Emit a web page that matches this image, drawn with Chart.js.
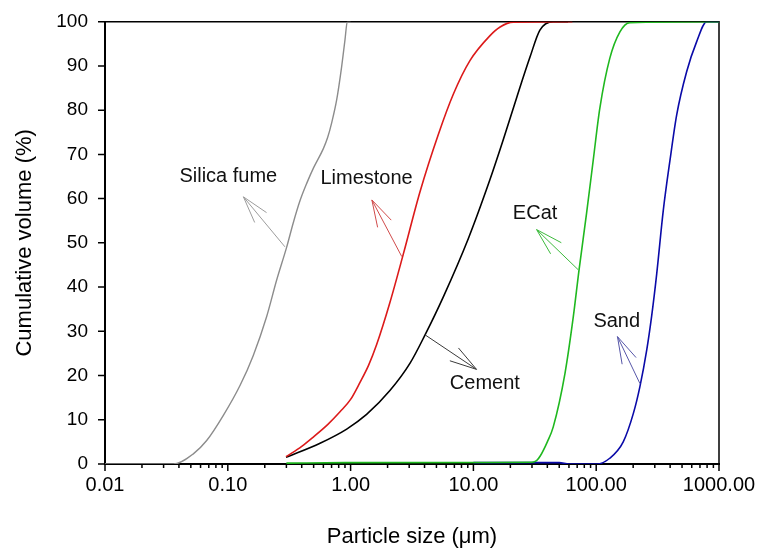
<!DOCTYPE html>
<html lang="en">
<head>
<meta charset="UTF-8">
<title>Particle size distribution</title>
<script src="https://cdn.jsdelivr.net/npm/chart.js"></script>
<style>
    html, body {
        margin: 0;
        padding: 0;
        background: #fff;
    }

    .chart-box {
        position: relative;
        width: 762px;
        height: 551px;
    }
</style>
</head>
<body>

<div class="chart-box">
    <canvas id="grafPSD"></canvas>
</div>

<script>
    // cumulative volume (%) vs particle size (um)
    const silicaX = [0.01, 0.036, 0.0524, 0.0673, 0.092, 0.126, 0.161, 0.207, 0.25, 0.302, 0.341, 0.387, 0.44, 0.5, 0.6, 0.65, 0.702, 0.77, 0.845, 0.9, 0.94, 1.0];
    const silicaY = [0, 0, 2.3, 5.3, 11, 17.8, 24.5, 33.3, 41.6, 49.1, 54.5, 59.5, 63.5, 67, 71.3, 73.8, 77.2, 82.3, 89.8, 95.9, 100, 100];

    const limestoneX = [0.298, 0.4, 0.497, 0.65, 0.82, 1.0, 1.19, 1.4, 1.63, 2.09, 2.69, 3.67, 5.18, 6.86, 9.37, 13.6, 16.5, 21.1, 64];
    const limestoneY = [1.65, 4, 6.1, 8.9, 11.8, 14.6, 18.4, 22.3, 27, 36.5, 47.5, 61.5, 74.5, 83.6, 91.2, 96.8, 98.8, 99.9, 100];

    const cementX = [0.298, 0.564, 0.93, 1.35, 2.09, 3.05, 4.04, 5.69, 9.1, 13.6, 17.5, 22.6, 28.9, 34.8, 44.7, 59];
    const cementY = [1.5, 4.7, 7.9, 11.2, 16.6, 22.8, 29.2, 37.8, 51, 64.2, 73.3, 83, 92, 98.1, 100, 100];

    const ecatX = [0.3, 0.9, 10, 30, 32.7, 35, 40, 44.7, 55.7, 65.1, 72.5, 83.5, 94.6, 107, 129, 156, 188, 1000];
    const ecatY = [0.2, 0.3, 0.35, 0.4, 0.75, 1.8, 5, 8.4, 20.5, 33.3, 43.9, 56.7, 68.7, 80.4, 91.7, 97.7, 99.8, 100];

    const sandX = [10, 50, 60, 101, 129, 166, 201, 227, 258, 283, 311, 352, 399, 452, 545, 658, 794, 1000];
    const sandY = [0.3, 0.3, 0, 0, 1.3, 5, 11.5, 17.5, 25.8, 33.5, 43, 57.4, 68.7, 78.9, 88.7, 95.5, 100, 100];

    const xMajorTicks = [0.01, 0.1, 1, 10, 100, 1000];
    const xTickLabels = ['0.01', '0.10', '1.00', '10.00', '100.00', '1000.00'];
    const xMinorSteps = [2, 3, 4, 5, 6, 7, 8, 9];
    const yTicks = [0, 10, 20, 30, 40, 50, 60, 70, 80, 90, 100];

    // curve labels with arrows pointing from the curve
    const noteText = ['Silica fume', 'Limestone', 'Cement', 'ECat', 'Sand'];
    const noteX = [0.101, 1.35, 12.4, 31.8, 147];
    const noteY = [65, 64.6, 18.1, 56.7, 32.2];
    const arrowFromX = [0.292, 2.61, 4.04, 71.5, 227];
    const arrowFromY = [49.1, 46.9, 29.2, 43.9, 18.2];
    const arrowTipX = [0.134, 1.49, 10.6, 32.7, 149];
    const arrowTipY = [60.4, 59.7, 21.4, 53, 28.8];
    const noteColors = ['#9c9c9c', '#d04a4a', '#3a3a3a', '#3cba3c', '#5656a8'];

    const FONT = "'Liberation Sans', Arial, sans-serif";

    const pts = (xs, ys) => xs.map((v, i) => ({ x: v, y: ys[i] }));

    // keep tick label overhang from pushing the plot area in
    const noLabelPadding = s => {
        s.paddingTop = 0;
        s.paddingBottom = 0;
        s.paddingLeft = 0;
        s.paddingRight = 0;
    };

    const frameAndTicks = {
        id: 'frameAndTicks',
        beforeDatasetsDraw(chart) {
            const { ctx, chartArea: a, scales: { x, y } } = chart;
            ctx.save();
            ctx.strokeStyle = '#000';
            ctx.lineWidth = 1.5;
            ctx.beginPath();
            ctx.moveTo(a.left, a.top);
            ctx.lineTo(a.right, a.top);
            ctx.lineTo(a.right, a.bottom);
            ctx.stroke();

            ctx.beginPath();
            xMajorTicks.forEach(d => {
                const px = x.getPixelForValue(d);
                ctx.moveTo(px, a.bottom);
                ctx.lineTo(px, a.bottom + 7);
                if (d < 1000) {
                    xMinorSteps.forEach(m => {
                        const mx = x.getPixelForValue(d * m);
                        ctx.moveTo(mx, a.bottom);
                        ctx.lineTo(mx, a.bottom + 4);
                    });
                }
            });
            yTicks.forEach(v => {
                const py = y.getPixelForValue(v);
                ctx.moveTo(a.left, py);
                ctx.lineTo(a.left - 7, py);
            });
            ctx.stroke();
            ctx.restore();
        },
        afterDatasetsDraw(chart) {
            const { ctx, scales: { x, y } } = chart;
            ctx.save();
            ctx.lineWidth = 1;
            noteText.forEach((t, i) => {
                const x0 = x.getPixelForValue(arrowFromX[i]);
                const y0 = y.getPixelForValue(arrowFromY[i]);
                const x1 = x.getPixelForValue(arrowTipX[i]);
                const y1 = y.getPixelForValue(arrowTipY[i]);
                const ang = Math.atan2(y0 - y1, x0 - x1);
                const spread = 16 * Math.PI / 180;
                const len = 28;
                ctx.strokeStyle = noteColors[i];
                ctx.beginPath();
                ctx.moveTo(x0, y0);
                ctx.lineTo(x1, y1);
                ctx.moveTo(x1, y1);
                ctx.lineTo(x1 + len * Math.cos(ang + spread), y1 + len * Math.sin(ang + spread));
                ctx.moveTo(x1, y1);
                ctx.lineTo(x1 + len * Math.cos(ang - spread), y1 + len * Math.sin(ang - spread));
                ctx.stroke();

                ctx.fillStyle = '#111';
                ctx.font = '20px ' + FONT;
                ctx.textAlign = 'center';
                ctx.textBaseline = 'middle';
                ctx.fillText(t, x.getPixelForValue(noteX[i]), y.getPixelForValue(noteY[i]));
            });
            ctx.restore();
        }
    };

    const line = (data, color, width) => ({
        data,
        borderColor: color,
        borderWidth: width,
        pointRadius: 0,
        fill: false,
        cubicInterpolationMode: 'monotone'
    });

    new Chart(document.getElementById('grafPSD'), {
        type: 'line',
        data: {
            datasets: [
                line(pts(silicaX, silicaY), '#8c8c8c', 1.4),
                line(pts(limestoneX, limestoneY), '#dc1a1a', 1.6),
                line(pts(cementX, cementY), '#000000', 1.6),
                line(pts(ecatX, ecatY), '#1fb81f', 1.6),
                line(pts(sandX, sandY), '#0a0aa8', 1.6)
            ]
        },
        options: {
            responsive: true,
            maintainAspectRatio: false,
            animation: false,
            layout: { padding: { top: 21.7, right: 43, bottom: 0, left: 0 } },
            plugins: {
                legend: { display: false },
                tooltip: { enabled: false }
            },
            scales: {
                x: {
                    type: 'logarithmic',
                    min: 0.01,
                    max: 1000,
                    grid: { display: false, drawTicks: false },
                    border: { display: true, color: '#000', width: 2 },
                    afterBuildTicks: s => { s.ticks = xMajorTicks.map(v => ({ value: v })); },
                    afterFit: s => { s.height = 87; noLabelPadding(s); },
                    ticks: {
                        autoSkip: false,
                        maxRotation: 0,
                        padding: 9,
                        color: '#000',
                        font: { family: FONT, size: 20 },
                        callback: (v, i) => xTickLabels[i]
                    },
                    title: {
                        display: true,
                        text: 'Particle size (μm)',
                        color: '#000',
                        font: { family: FONT, size: 22 },
                        padding: { top: 0, bottom: 1 }
                    }
                },
                y: {
                    min: 0,
                    max: 100,
                    grid: { display: false, drawTicks: false },
                    border: { display: true, color: '#000', width: 2 },
                    afterBuildTicks: s => { s.ticks = yTicks.map(v => ({ value: v })); },
                    afterFit: s => { s.width = 105; noLabelPadding(s); },
                    ticks: {
                        padding: 17,
                        color: '#000',
                        font: { family: FONT, size: 19 }
                    },
                    title: {
                        display: true,
                        text: 'Cumulative volume (%)',
                        color: '#000',
                        font: { family: FONT, size: 22 },
                        padding: { top: 12, bottom: 0 }
                    }
                }
            }
        },
        plugins: [frameAndTicks]
    });
</script>

</body>
</html>
